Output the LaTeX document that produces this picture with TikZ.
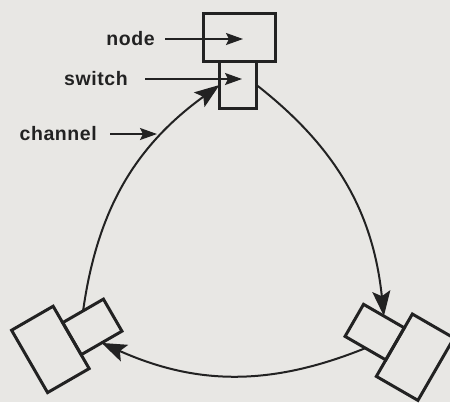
\documentclass[tikz,border=0pt]{standalone}
\usepackage{fontspec}
\newfontfamily\lblfont{Liberation Sans}[LetterSpace=3]
\usetikzlibrary{arrows.meta}
\definecolor{bg}{RGB}{232,231,228}
\definecolor{ink}{RGB}{34,34,34}
\tikzset{
  nodebox/.style={draw=ink, line width=3pt, minimum width=72pt, minimum height=48pt, inner sep=0pt, outer sep=0pt},
  switchbox/.style={draw=ink, line width=3pt, minimum width=37pt, minimum height=47pt, inner sep=0pt, outer sep=0pt},
  chan/.style={draw=ink, line width=2pt, -{Stealth[length=25pt,width=18pt,inset=5pt]}},
  labarrow/.style={draw=ink, line width=2pt, -{Stealth[length=17pt,width=12pt,inset=3pt]}},
  lbl/.style={text=ink, inner sep=0pt, anchor=east, font=\lblfont\bfseries\fontsize{19.5}{22}\selectfont},
}
\begin{document}
\begin{tikzpicture}[x=1pt,y=-1pt]
\fill[bg] (0,0) rectangle (450,402);
\useasboundingbox (0,0) rectangle (450,402);
\coordinate (c) at (235,248);
% top unit
\node[nodebox] (n1) at (239.5,37.4) {};
\node[switchbox] (s1) at (238,85) {};
% bottom-left unit
\begin{scope}[rotate around={120:(c)}, transform shape]
\node[nodebox] (n2) at (239.5,37.4) {};
\node[switchbox] (s2) at (238,85) {};
\end{scope}
% bottom-right unit
\begin{scope}[rotate around={-120:(c)}, transform shape]
\node[nodebox] (n3) at (239.5,37.4) {};
\node[switchbox] (s3) at (238,85) {};
\end{scope}
% channels
\draw[chan] (s1.east) to[out=-38,in=96] (s3.west);
\draw[chan] (s3.east) to[out=-158,in=-24] (s2.west);
\draw[chan] (s2.east) to[out=82,in=216] (s1.west);
% labels
\node[lbl] (lnode) at (155,39) {node};
\node[lbl] (lswitch) at (128,79) {switch};
\node[lbl] (lchan) at (97,134) {channel};
\coordinate (tnode) at (243,39);
\coordinate (tswitch) at (242,79);
\coordinate (tchan) at (157,134);
\draw[labarrow, shorten <=10pt] (lnode.east) -- (tnode);
\draw[labarrow, shorten <=17pt] (lswitch.east) -- (tswitch);
\draw[labarrow, shorten <=13pt] (lchan.east) -- (tchan);
\end{tikzpicture}
\end{document}
